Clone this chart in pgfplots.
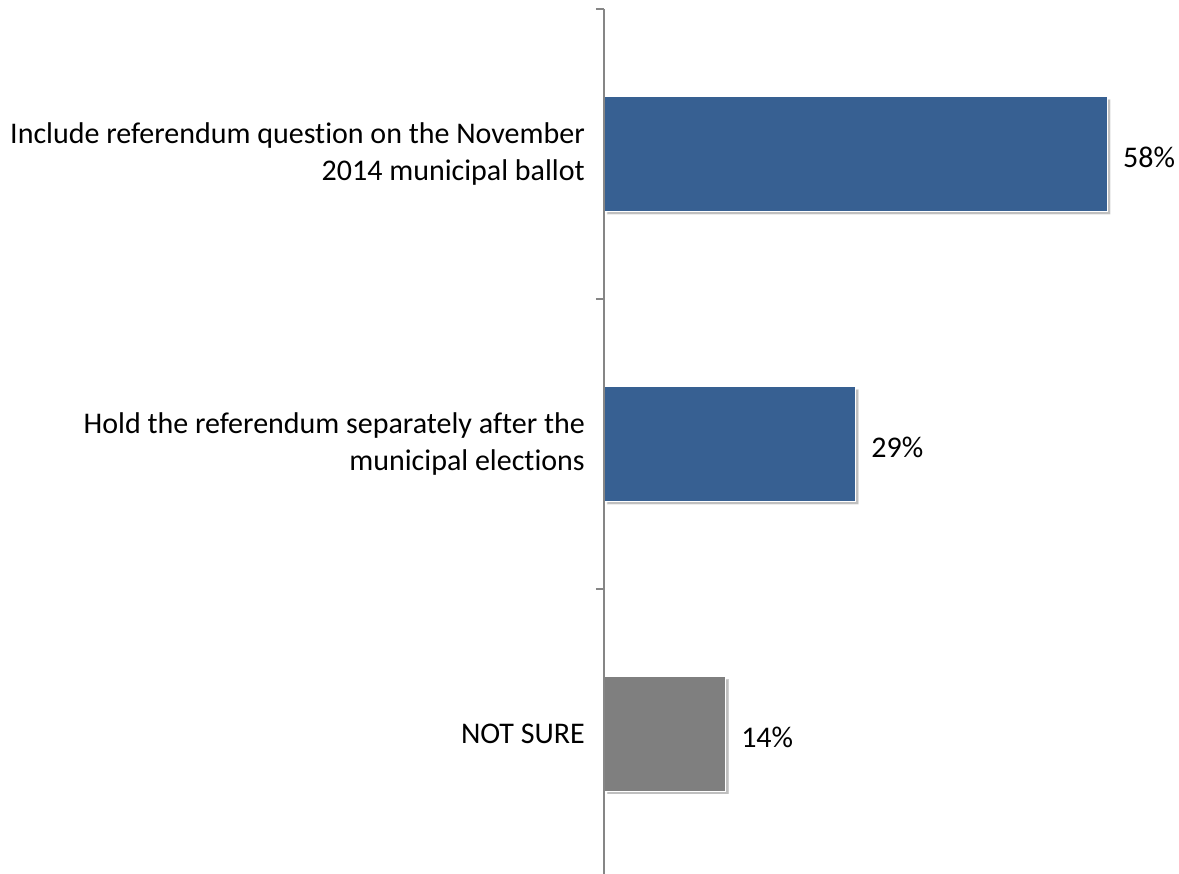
\documentclass[border=0pt]{standalone}
\usepackage{pgfplots}
\pgfplotsset{compat=1.18}
\usepackage{fontspec}
\setmainfont[Ligatures={NoCommon}]{Carlito}
\usetikzlibrary{shadows}
\definecolor{barblue}{RGB}{55,96,146}
\definecolor{bargray}{RGB}{127,127,127}
\definecolor{axisgray}{RGB}{134,134,134}
\begin{document}
\begin{tikzpicture}[x=1pt,y=1pt]
\useasboundingbox (0,0) rectangle (1179,874);
\begin{axis}[
  at={(604pt,-5pt)}, anchor=south west,
  scale only axis, width=575pt, height=870pt,
  xmin=0, xmax=66.24, ymin=-0.5, ymax=2.5,
  axis x line=none, axis y line=left,
  axis on top,
  y axis line style={-, draw=axisgray, line width=2pt},
  ytick={0,1,2},
  yticklabels={NOT SURE,{Hold the referendum separately after the\\municipal elections},{Include referendum question on the November\\2014 municipal ballot}},
  major tick length=0pt,
  minor ytick={-0.5,0.5,1.5,2.5},
  minor tick length=8pt, tick align=outside,
  minor tick style={draw=axisgray, line width=2pt},
  yticklabel style={align=right, font=\fontsize{30}{37}\selectfont, inner sep=0pt, xshift=-19pt},
  /pgf/number format/assume math mode=true,
  xbar, bar width=115pt, bar shift=0pt,
  point meta=x,
  nodes near coords={\pgfmathprintnumber{\pgfplotspointmeta}\%},
  nodes near coords style={font=\fontsize{30}{37}\selectfont, anchor=west, inner sep=0pt, xshift=15pt, yshift=-3pt, text=black},
  clip=false,
]
\addplot[fill=barblue, draw=white, line width=1.5pt, drop shadow={shadow xshift=3pt, shadow yshift=-3pt, fill=black, opacity=0.25}] coordinates {(58,2) (29,1)};
\addplot[fill=bargray, draw=white, line width=1.5pt, drop shadow={shadow xshift=3pt, shadow yshift=-3pt, fill=black, opacity=0.25}] coordinates {(14,0)};
\end{axis}
\end{tikzpicture}
\end{document}
